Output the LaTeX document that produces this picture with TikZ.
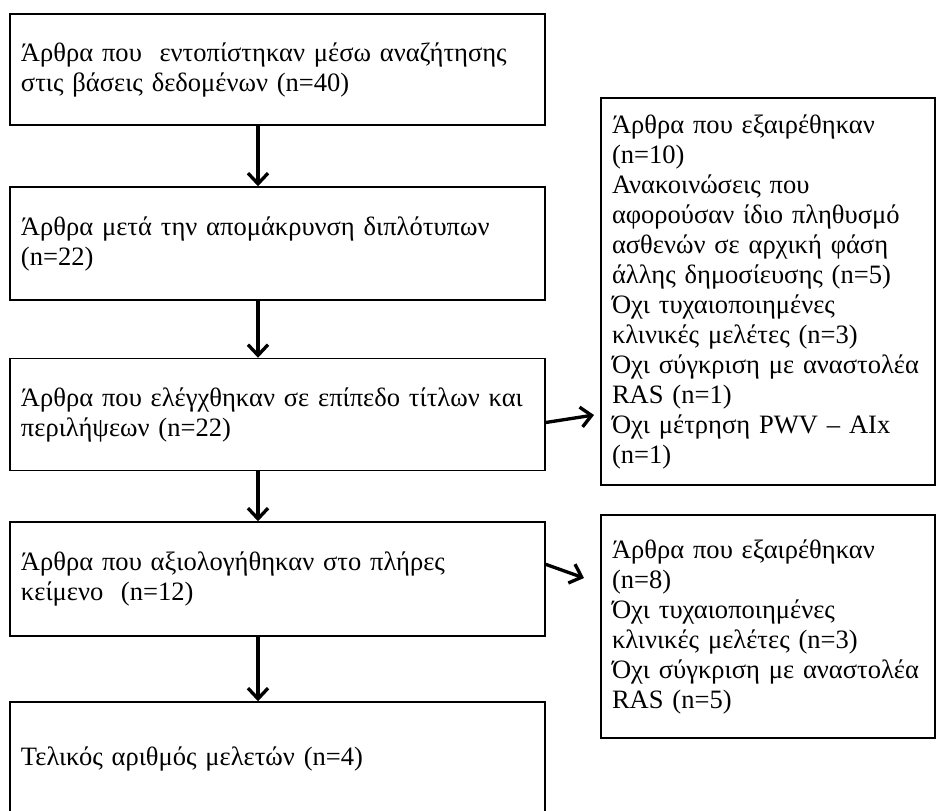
\documentclass[tikz,border=0pt]{standalone}
\usepackage{fontspec}
\setmainfont{Liberation Serif}
\usetikzlibrary{arrows.meta}

\begin{document}
\begin{tikzpicture}[x=0.75pt,y=-0.75pt,node font=\fontsize{19.9}{22.5}\selectfont,
		kouti/.style={draw,line width=1.1pt,align=left,inner xsep=8.25pt,inner ysep=0pt},
		aristero/.style={kouti,text width=384.75pt},
		dexi/.style={kouti,text width=234pt},
		velos/.style={line width=2.5pt,-{Straight Barb[length=8pt,width=15pt]}}]
			\useasboundingbox (0,0) rectangle (937,810);
			\clip (0,0) rectangle (937,810);
			\coordinate (axis) at (258,0);
			\node[aristero,minimum height=83.25pt] (b1) at (277.5,69.5) {Άρθρα που\ \ εντοπίστηκαν μέσω αναζήτησης\\στις βάσεις δεδομένων (n=40)};
			\node[aristero,minimum height=84.75pt] (b2) at (277.5,243.5) {Άρθρα μετά την απομάκρυνση διπλότυπων\\(n=22)};
			\node[aristero,minimum height=84pt] (b3) at (277.5,414.5) {Άρθρα που ελέγχθηκαν σε επίπεδο τίτλων και\\περιλήψεων (n=22)};
			\node[aristero,minimum height=85.5pt] (b4) at (277.5,579) {Άρθρα που αξιολογήθηκαν στο πλήρες\\κείμενο\ \ (n=12)};
			\node[aristero,minimum height=85.5pt] (b5) at (277.5,759) {Τελικός αριθμός μελετών (n=4)};
			\node[dexi,minimum height=290.25pt] (r1) at (768,291.5) {Άρθρα που εξαιρέθηκαν\\(n=10)\\Ανακοινώσεις που\\αφορούσαν ίδιο πληθυσμό\\ασθενών σε αρχική φάση\\άλλης δημοσίευσης (n=5)\\Όχι τυχαιοποιημένες\\κλινικές μελέτες (n=3)\\Όχι σύγκριση με αναστολέα\\RAS (n=1)\\Όχι μέτρηση PWV – AIx\\(n=1)};
			\node[dexi,minimum height=167.25pt] (r2) at (768,626.5) {Άρθρα που εξαιρέθηκαν\\(n=8)\\Όχι τυχαιοποιημένες\\κλινικές μελέτες (n=3)\\Όχι σύγκριση με αναστολέα\\RAS (n=5)};
			\coordinate (e1) at (594,415);
			\coordinate (e2) at (584,578);
			\draw[velos] (b1.south -| axis) -- (b2.north -| axis);
			\draw[velos] (b2.south -| axis) -- (b3.north -| axis);
			\draw[velos] (b3.south -| axis) -- (b4.north -| axis);
			\draw[velos] (b4.south -| axis) -- (b5.north -| axis);
			\draw[velos] ([yshift=-6pt]b3.east) -- (e1);
			\draw[velos] ([yshift=11pt]b4.east) -- (e2);
		\end{tikzpicture}
\end{document}
